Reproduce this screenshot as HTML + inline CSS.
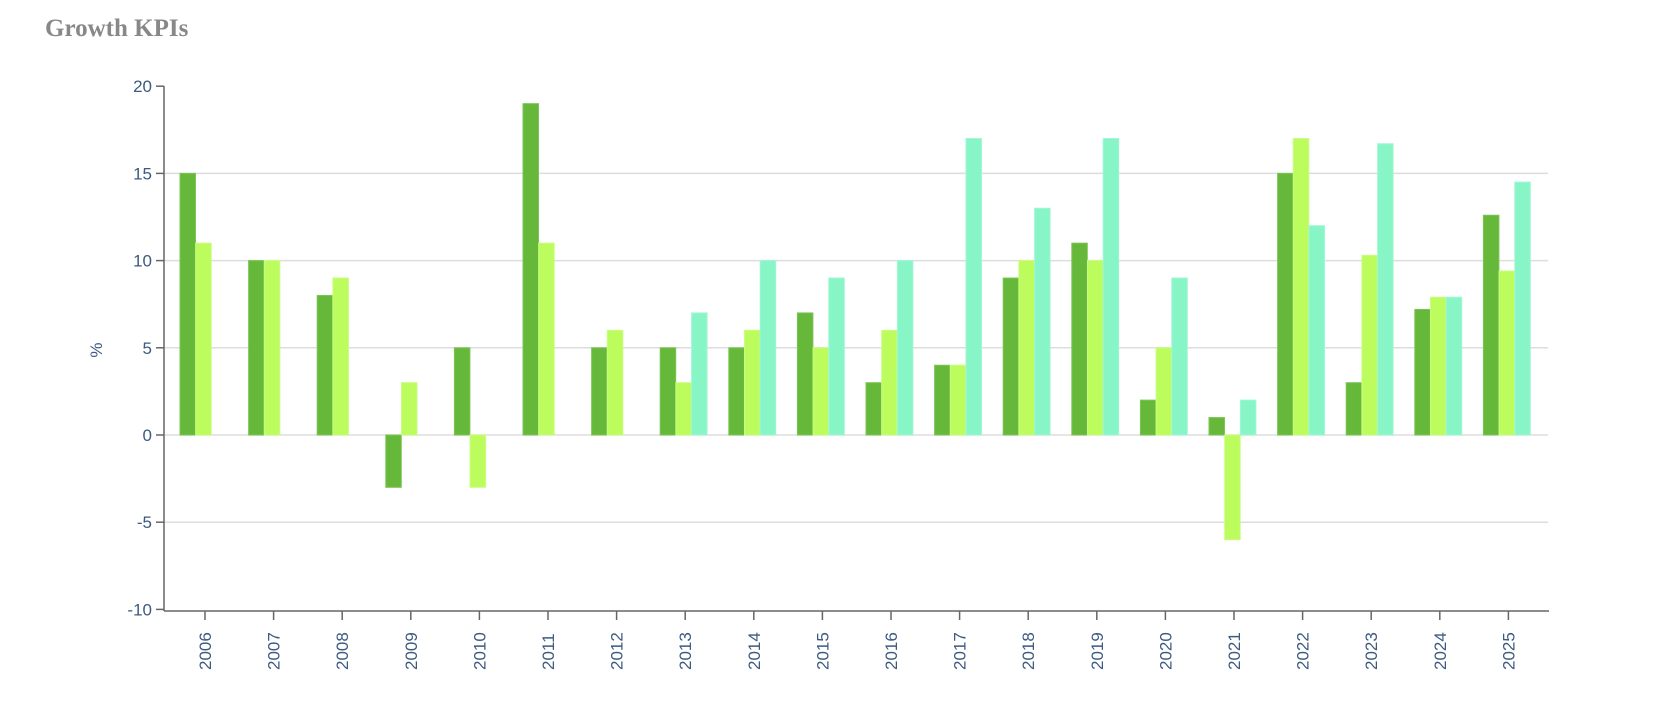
<!DOCTYPE html>
<html><head><meta charset="utf-8"><style>
body{margin:0;background:#fff;}
svg{display:block;}
</style></head><body>
<svg width="1674" height="726" xmlns="http://www.w3.org/2000/svg" font-family="Liberation Sans, sans-serif">
<text x="45" y="36" style="font-family:'Liberation Serif',serif;font-weight:bold;font-size:25px" fill="#888">Growth KPIs</text>
<g id="grid" stroke="#ddd" stroke-width="1.5"></g>
<g id="bars"></g>
<g id="axes"></g>
</svg>
<script>
const y0=435,ppu=17.44,t0=205,step=68.6;
const Y=v=>y0-v*ppu;
const data=[[15,11,null],[10,10,null],[8,9,null],[-3,3,null],[5,-3,null],[19,11,null],[5,6,null],[5,3,7],[5,6,10],[7,5,9],[3,6,10],[4,4,17],[9,10,13],[11,10,17],[2,5,9],[1,-6,2],[15,17,12],[3,10.3,16.7],[7.2,7.9,7.9],[12.6,9.4,14.5]];
const cols=["#66b83a","#bcfc5c","#88f5c6"],strokes=["#7cc455","#c9fd80","#a0f7d3"];
const offs=[-25,-9.3,6.4],bw=15.5;
let g='',b='',a='';
for(let v=-5;v<=15;v+=5){g+=`<line x1="164" x2="1548" y1="${Y(v)}" y2="${Y(v)}"/>`;}
data.forEach((d,i)=>{const t=t0+i*step;d.forEach((v,j)=>{if(v==null)return;const top=Math.min(Y(v),y0),h=Math.abs(Y(v)-y0);
b+=`<rect x="${t+offs[j]}" y="${top}" width="${bw}" height="${h}" fill="${cols[j]}" stroke="${strokes[j]}" stroke-width="1"/>`;});
a+=`<line x1="${t}" x2="${t}" y1="611" y2="620" stroke="#666" stroke-width="1.5"/>`;
a+=`<text transform="translate(${t+6},670) rotate(-90)" font-size="17" fill="#3d5a80">${2006+i}</text>`;});
a+=`<line x1="164" x2="164" y1="86" y2="611" stroke="#666" stroke-width="1.5"/><line x1="164" x2="1549" y1="611" y2="611" stroke="#666" stroke-width="1.5"/>`;
for(let v=-10;v<=20;v+=5){a+=`<line x1="156" x2="164" y1="${Y(v)}" y2="${Y(v)}" stroke="#666" stroke-width="1.5"/><text x="152" y="${Y(v)+6}" text-anchor="end" font-size="17" fill="#3d5a80">${v}</text>`;}
a+=`<text transform="translate(102,350) rotate(-90)" font-size="17" fill="#3d5a80" text-anchor="middle">%</text>`;
document.getElementById('grid').innerHTML=g;document.getElementById('bars').innerHTML=b;document.getElementById('axes').innerHTML=a;
</script>
</body></html>
